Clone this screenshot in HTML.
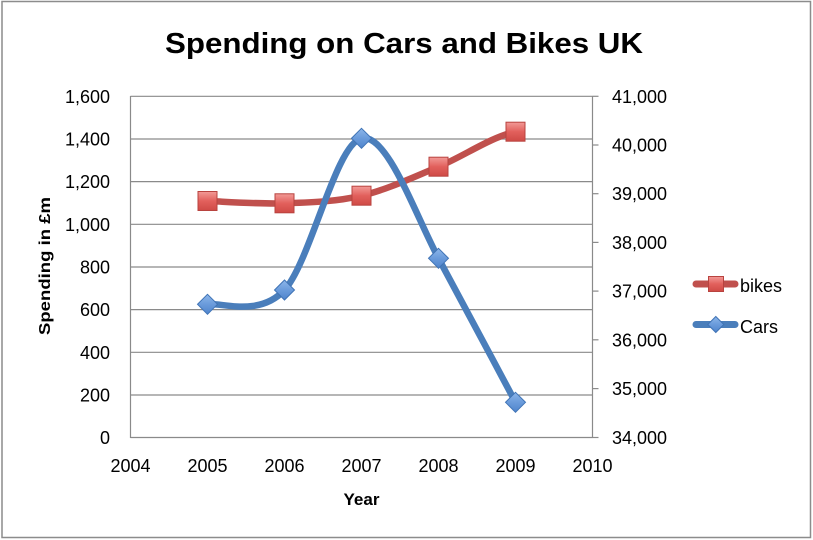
<!DOCTYPE html>
<html><head><meta charset="utf-8"><style>
html,body{margin:0;padding:0;background:#fff;}
svg{display:block;}
text{font-family:"Liberation Sans",sans-serif;fill:#000;}
</style></head><body>
<svg width="813" height="540" viewBox="0 0 813 540" xmlns="http://www.w3.org/2000/svg">
<defs>
<linearGradient id="rg" x1="0" y1="0" x2="0" y2="1">
<stop offset="0" stop-color="#F29A97"/><stop offset="0.5" stop-color="#E2605C"/><stop offset="1" stop-color="#CF4A46"/>
</linearGradient>
<linearGradient id="bg" x1="0" y1="0" x2="0" y2="1">
<stop offset="0" stop-color="#8DB6EA"/><stop offset="0.5" stop-color="#6A9BDB"/><stop offset="1" stop-color="#4F84CC"/>
</linearGradient>
<g id="sq"><rect x="-9.5" y="-9.5" width="19" height="19" fill="url(#rg)" stroke="#B8433F" stroke-width="1"/></g>
<g id="dm"><path d="M0,-10 L10,0 L0,10 L-10,0 Z" fill="url(#bg)" stroke="#3F73B5" stroke-width="1"/></g>
</defs>
<rect x="0" y="0" width="813" height="540" fill="#fff"/>
<rect x="2" y="1.5" width="808.5" height="536" fill="none" stroke="#8c8c8c" stroke-width="1.5"/>

<text x="404" y="53" font-size="29" font-weight="bold" text-anchor="middle" textLength="478" lengthAdjust="spacingAndGlyphs">Spending on Cars and Bikes UK</text>

<g stroke="#8a8a8a" stroke-width="1.2">
<line x1="130.5" y1="96.3" x2="592.5" y2="96.3"/>
<line x1="130.5" y1="139" x2="592.5" y2="139"/>
<line x1="130.5" y1="181.6" x2="592.5" y2="181.6"/>
<line x1="130.5" y1="224.3" x2="592.5" y2="224.3"/>
<line x1="130.5" y1="267" x2="592.5" y2="267"/>
<line x1="130.5" y1="309.6" x2="592.5" y2="309.6"/>
<line x1="130.5" y1="352.3" x2="592.5" y2="352.3"/>
<line x1="130.5" y1="395" x2="592.5" y2="395"/>
<line x1="130.5" y1="437.5" x2="592.5" y2="437.5"/>
<line x1="130.5" y1="96" x2="130.5" y2="438"/>
<line x1="592.5" y1="96" x2="592.5" y2="438"/>
<line x1="592.5" y1="96.3" x2="598.5" y2="96.3"/>
<line x1="592.5" y1="145" x2="598.5" y2="145"/>
<line x1="592.5" y1="193.7" x2="598.5" y2="193.7"/>
<line x1="592.5" y1="242.4" x2="598.5" y2="242.4"/>
<line x1="592.5" y1="291.1" x2="598.5" y2="291.1"/>
<line x1="592.5" y1="339.8" x2="598.5" y2="339.8"/>
<line x1="592.5" y1="388.6" x2="598.5" y2="388.6"/>
<line x1="592.5" y1="437.5" x2="598.5" y2="437.5"/>
</g>

<g font-size="18" text-anchor="end">
<text x="110" y="103">1,600</text>
<text x="110" y="145.5">1,400</text>
<text x="110" y="188">1,200</text>
<text x="110" y="231">1,000</text>
<text x="110" y="273.5">800</text>
<text x="110" y="316">600</text>
<text x="110" y="359">400</text>
<text x="110" y="401.5">200</text>
<text x="110" y="444">0</text>
</g>
<g font-size="18" text-anchor="start">
<text x="612" y="103">41,000</text>
<text x="612" y="151.5">40,000</text>
<text x="612" y="200">39,000</text>
<text x="612" y="249">38,000</text>
<text x="612" y="297.5">37,000</text>
<text x="612" y="346.5">36,000</text>
<text x="612" y="395">35,000</text>
<text x="612" y="444">34,000</text>
</g>
<g font-size="18" text-anchor="middle">
<text x="130.5" y="472">2004</text>
<text x="207.5" y="472">2005</text>
<text x="284.5" y="472">2006</text>
<text x="361.5" y="472">2007</text>
<text x="438.5" y="472">2008</text>
<text x="515.5" y="472">2009</text>
<text x="592.5" y="472">2010</text>
</g>
<text x="361.5" y="505" font-size="17" font-weight="bold" text-anchor="middle">Year</text>
<text transform="translate(50,266) rotate(-90)" font-size="16" font-weight="bold" text-anchor="middle" textLength="138" lengthAdjust="spacingAndGlyphs">Spending in £m</text>

<path d="M207.5,201 C220.33,201.38 258.83,204.18 284.5,203.3 C310.17,202.42 335.83,201.8 361.5,195.7 C387.17,189.6 412.83,177.37 438.5,166.7 C464.17,156.03 489.83,137.53 515.5,131.7" fill="none" stroke="#C0504D" stroke-width="6.5" stroke-linecap="round" stroke-linejoin="round"/>
<path d="M207.5,304.3 C220.33,301.92 258.83,317.67 284.5,290 C310.17,262.33 335.83,143.58 361.5,138.3 C387.17,133.02 414.5,213 438.5,258.3 C463,304.5 490,354 515.5,402.3" fill="none" stroke="#4A7EBB" stroke-width="6.5" stroke-linecap="round" stroke-linejoin="round"/>

<g>
<use href="#sq" x="207.5" y="201"/>
<use href="#sq" x="284.5" y="203.3"/>
<use href="#sq" x="361.5" y="195.7"/>
<use href="#sq" x="438.5" y="166.7"/>
<use href="#sq" x="515.5" y="131.7"/>
<use href="#dm" x="207.5" y="304.3"/>
<use href="#dm" x="284.5" y="290"/>
<use href="#dm" x="361.5" y="138.3"/>
<use href="#dm" x="438.5" y="258.3"/>
<use href="#dm" x="515.5" y="402.3"/>
</g>

<line x1="696" y1="284" x2="735" y2="284" stroke="#C0504D" stroke-width="7" stroke-linecap="round"/>
<rect x="708.5" y="276.5" width="15" height="15" fill="url(#rg)" stroke="#B8433F" stroke-width="1"/>
<text x="740" y="292" font-size="18">bikes</text>
<line x1="696" y1="324.5" x2="735" y2="324.5" stroke="#4A7EBB" stroke-width="7" stroke-linecap="round"/>
<path d="M715.8,316.5 L723.8,324.5 L715.8,332.5 L707.8,324.5 Z" fill="url(#bg)" stroke="#3F73B5" stroke-width="1"/>
<text x="740" y="333" font-size="18">Cars</text>
</svg>
</body></html>
